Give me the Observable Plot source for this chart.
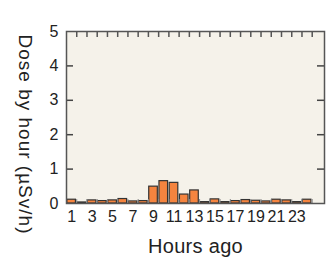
<!DOCTYPE html>
<html><head><meta charset="utf-8">
<script src="https://cdn.jsdelivr.net/npm/d3@7"></script>
<script src="https://cdn.jsdelivr.net/npm/@observablehq/plot@0.6"></script>
<style>body{margin:0;background:#fff;font-family:"Liberation Sans",Arial,sans-serif}</style>
</head><body><div id="chart"></div>
<script>
const hours = [1,2,3,4,5,6,7,8,9,10,11,12,13,14,15,16,17,18,19,20,21,22,23,24];
const dose  = [0.11,0.03,0.09,0.07,0.09,0.13,0.06,0.07,0.49,0.65,0.60,0.26,0.38,0.04,0.12,0.04,0.07,0.10,0.08,0.06,0.11,0.09,0.04,0.11];
const xTickLabels = [1,3,5,7,9,11,13,15,17,19,21,23];
const yTicks = [0,1,2,3,4,5];
const yLabel = "Dose by hour (µSv/h)";
const xLabel = "Hours ago";

const data = hours.map((h,i)=>({hour:h, dose:dose[i]}));
const boundaries = hours.map(h=>h+0.5);
const innerTicks = yTicks.slice(1,-1);

const W=330,H=260, mL=66, mR=6, mT=31, mB=57;
const pw = W-mL-mR, ph = H-mT-mB;

const chart = Plot.plot({
  width: W, height: H,
  marginLeft: mL, marginRight: mR, marginTop: mT, marginBottom: mB,
  style: {fontFamily: '"Liberation Sans", Arial, sans-serif', background: "#fff", color: "#222"},
  x: {domain: [0.5, 25.7], axis: null},
  y: {domain: [0, 5], axis: null},
  marks: [
    Plot.frame({fill: "#f5f2ea", stroke: null}),
    Plot.rectY(data, {x1: d=>d.hour-0.42, x2: d=>d.hour+0.42, y: "dose", fill: "#f5843f", stroke: "#333", strokeWidth: 1.2}),
    Plot.tickX(boundaries, {x: d=>d, insetBottom: ph-6, stroke: "#555", strokeWidth: 1.5}),
    Plot.tickX(boundaries, {x: d=>d, insetTop: ph-4, stroke: "#888", strokeWidth: 1}),
    Plot.tickY(innerTicks, {y: d=>d, insetRight: pw-7, stroke: "#444", strokeWidth: 1.5}),
    Plot.tickY(innerTicks, {y: d=>d, insetLeft: pw-7, stroke: "#444", strokeWidth: 1.5}),
    Plot.frame({stroke: "#555", strokeWidth: 1.5}),
    Plot.axisY(yTicks, {anchor: "left", label: null, tickSize: 0, tickPadding: 8, fontSize: 16, fill: "#222", tickFormat: d=>d}),
    Plot.axisX(xTickLabels, {anchor: "bottom", label: null, tickSize: 0, tickPadding: 7, fontSize: 16, fill: "#222", tickFormat: d=>d}),
    Plot.text([xLabel], {text: d=>d, frameAnchor: "bottom", lineAnchor: "middle", dy: 43, fontSize: 20, fill: "#222", className: "xlab"}),
    Plot.text([yLabel], {text: d=>d, frameAnchor: "left", textAnchor: "middle", lineAnchor: "middle", dx: -41, dy: 17, rotate: 90, fontSize: 19, fill: "#222", className: "ylab"})
  ]
});
chart.querySelectorAll(".ylab text").forEach(t => t.setAttribute("letter-spacing", "1"));
chart.querySelectorAll(".xlab text").forEach(t => t.setAttribute("letter-spacing", "0.3"));
document.getElementById("chart").appendChild(chart);
</script>
</body></html>
